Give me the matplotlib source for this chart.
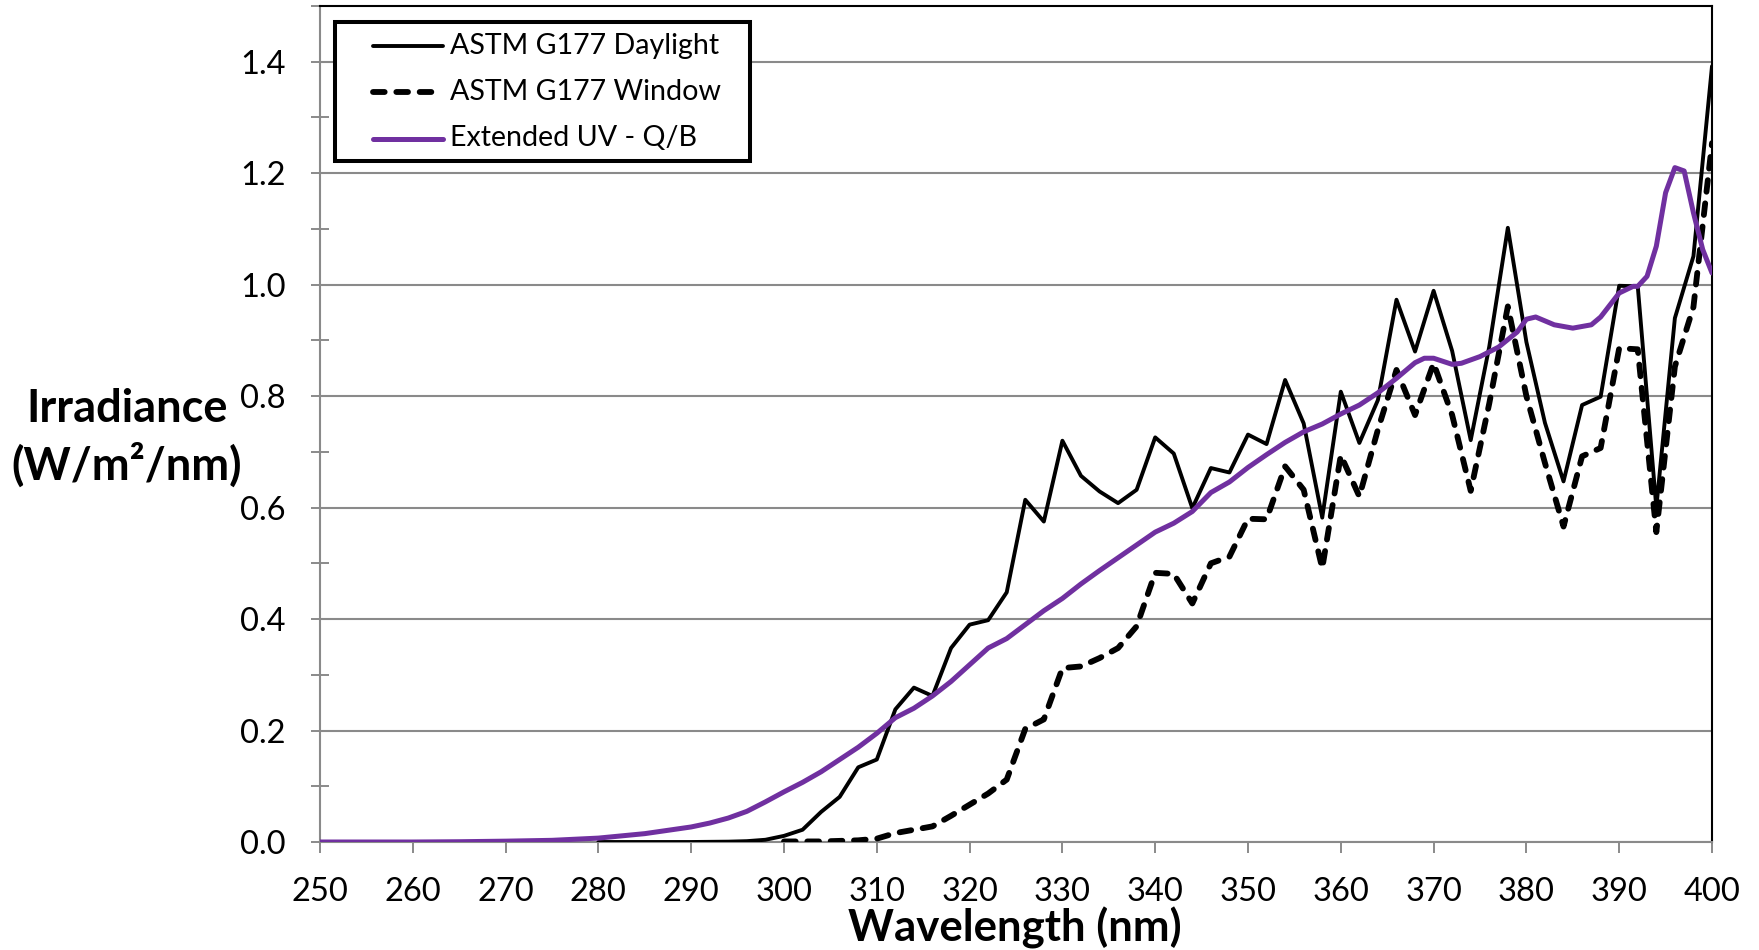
import matplotlib
matplotlib.use("Agg")
import matplotlib.pyplot as plt
from matplotlib.patches import Rectangle
from matplotlib.lines import Line2D
from matplotlib.ticker import MultipleLocator, FixedLocator

plt.rcParams['font.family'] = ['Lato', 'DejaVu Sans']

# ---------------- data ----------------
wl_daylight = list(range(280, 401, 2))
daylight = [0, 0, 0, 0, 0, 0, 0.0003, 0.0006, 0.0015, 0.004,
            0.011, 0.022, 0.054, 0.081, 0.134, 0.148, 0.238, 0.277, 0.262, 0.348,
            0.390, 0.398, 0.448, 0.614, 0.575, 0.720, 0.657, 0.629, 0.608, 0.632,
            0.726, 0.697, 0.599, 0.671, 0.663, 0.731, 0.714, 0.829, 0.751, 0.582,
            0.808, 0.716, 0.793, 0.973, 0.880, 0.989, 0.881, 0.721, 0.889, 1.102,
            0.897, 0.752, 0.647, 0.784, 0.799, 0.998, 0.997, 0.600, 0.940, 1.051,
            1.392]

wl_window = list(range(300, 401, 2))
window = [0.001, 0.001, 0.001, 0.002, 0.003, 0.006, 0.016, 0.022, 0.028, 0.047,
          0.067, 0.087, 0.112, 0.203, 0.220, 0.312, 0.315, 0.330, 0.348, 0.387,
          0.483, 0.481, 0.428, 0.500, 0.512, 0.580, 0.579, 0.674, 0.632, 0.491,
          0.694, 0.620, 0.740, 0.847, 0.766, 0.859, 0.766, 0.630, 0.787, 0.961,
          0.800, 0.680, 0.566, 0.692, 0.707, 0.886, 0.884, 0.556, 0.853, 0.960,
          1.254]

wl_ext = [250, 260, 265, 270, 275, 280, 285, 290, 292, 294, 296, 298, 300, 302, 304,
          306, 308, 310, 312, 314, 316, 318, 320, 322, 324, 326, 328, 330, 332, 334,
          336, 338, 340, 342, 344, 346, 348, 350, 352, 354, 356, 358, 360, 362, 364,
          366, 368, 369, 370, 372, 373, 375, 377, 379, 380, 381, 383, 385, 387, 388,
          390, 391.5, 392, 393, 394, 395, 396, 397, 398, 399, 400]
ext_uv = [0, 0, 0.0005, 0.0015, 0.003, 0.007, 0.015, 0.027, 0.034, 0.043, 0.055, 0.072,
          0.090, 0.107, 0.126, 0.148, 0.170, 0.195, 0.223, 0.240, 0.262, 0.288, 0.318,
          0.348, 0.365, 0.390, 0.415, 0.437, 0.463, 0.487, 0.510, 0.533, 0.556, 0.572,
          0.593, 0.627, 0.646, 0.672, 0.695, 0.717, 0.736, 0.750, 0.768, 0.784, 0.806,
          0.832, 0.860, 0.868, 0.868, 0.857, 0.859, 0.871, 0.888, 0.915, 0.938, 0.942,
          0.928, 0.922, 0.928, 0.942, 0.985, 0.997, 0.997, 1.015, 1.069, 1.165, 1.210,
          1.204, 1.129, 1.063, 1.021]

series_labels = ["ASTM G177 Daylight", "ASTM G177 Window", "Extended UV - Q/B"]
x_ticks = list(range(250, 401, 10))
y_ticks = [0.0, 0.2, 0.4, 0.6, 0.8, 1.0, 1.2, 1.4]
y_tick_labels = ["0.0", "0.2", "0.4", "0.6", "0.8", "1.0", "1.2", "1.4"]

# ---------------- figure ----------------
W, H = 1759, 950
fig = plt.figure(figsize=(W / 100, H / 100), dpi=100)
L, R, T, B = 320, 1712, 6, 842
ax = fig.add_axes([L / W, (H - B) / H, (R - L) / W, (B - T) / H])

gray = '#8a8a8a'
purple = '#7030a0'

s1 = dict(color='black', lw=2.8, solid_joinstyle='round', solid_capstyle='round')
s2 = dict(color='black', lw=4.2, linestyle=(0, (2.0, 2.0)), dash_capstyle='round',
          dash_joinstyle='round')
s3 = dict(color=purple, lw=3.6, solid_joinstyle='round', solid_capstyle='round')

ax.plot(wl_daylight, daylight, **s1, zorder=3)
ax.plot(wl_window, window, **s2, zorder=3)
ax.plot(wl_ext, ext_uv, **s3, zorder=3)

ax.set_xlim(250, 400)
ax.set_ylim(0, 1.5)
ax.xaxis.set_major_locator(FixedLocator(x_ticks))
ax.yaxis.set_major_locator(FixedLocator(y_ticks))
ax.set_yticklabels(y_tick_labels)
ax.yaxis.set_minor_locator(MultipleLocator(0.1))

ax.yaxis.grid(True, which='major', color=gray, lw=1.5)
ax.set_axisbelow(True)

for s in ['left', 'bottom']:
    ax.spines[s].set_color(gray)
    ax.spines[s].set_linewidth(1.5)
for s in ['top', 'right']:
    ax.spines[s].set_color('black')
    ax.spines[s].set_linewidth(1.5)

fs_tick = 23.5
fs_leg = 20.6
ax.tick_params(axis='y', which='both', direction='inout', length=13, width=1.4,
               color=gray, labelsize=fs_tick, pad=18, labelcolor='black')
ax.tick_params(axis='x', which='major', direction='out', length=8, width=1.4,
               color=gray, labelsize=fs_tick, pad=17, labelcolor='black')

# axis titles
fs_title = 32.5
fig.text(127 / W, 1 - 409 / H, "Irradiance", ha='center', va='center',
         fontsize=fs_title, fontweight='bold')
fig.text(127 / W, 1 - 465 / H, "(W/m\u00b2/nm)", ha='center', va='center',
         fontsize=fs_title, fontweight='bold')
fig.text(1015 / W, 1 - 928 / H, "Wavelength (nm)", ha='center', va='center',
         fontsize=31.5, fontweight='bold')

# legend (manual, Excel-style box)
def axx(px):
    return (px - L) / (R - L)

def axy(py):
    return (B - py) / (B - T)

ax.add_patch(Rectangle((axx(335), axy(161)), axx(750) - axx(335), axy(22) - axy(161),
                       transform=ax.transAxes, facecolor='white', edgecolor='black',
                       lw=2.9, zorder=5, joinstyle='miter'))
rows = [46.0, 92.0, 138.5]
styles = [s1, s2, s3]
for lab, py, st in zip(series_labels, rows, styles):
    ax.add_line(Line2D([axx(373), axx(443)], [axy(py), axy(py)], transform=ax.transAxes,
                       zorder=6, **st))
    ax.text(axx(450), axy(py), lab, transform=ax.transAxes, ha='left', va='center',
            fontsize=fs_leg, zorder=6)

fig.savefig("out.png", dpi=100)
